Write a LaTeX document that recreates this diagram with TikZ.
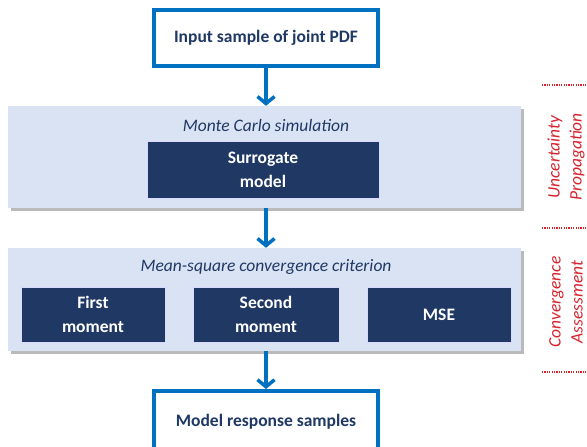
\documentclass[tikz,border=0pt]{standalone}
\usepackage{fontspec}
\setmainfont{Carlito}
\usetikzlibrary{arrows.meta,shadows,calc}
\definecolor{mblue}{RGB}{0,112,192}
\definecolor{navy}{RGB}{31,56,100}
\definecolor{panelbg}{RGB}{218,227,243}
\definecolor{mred}{RGB}{215,35,45}
\tikzset{
  whitebox/.style={draw=mblue, line width=4pt, fill=white, inner sep=0pt, align=center,
    font=\fontsize{17.5}{21}\selectfont\bfseries, text=navy},
  panel/.style={fill=panelbg, draw=none, inner sep=0pt,
    drop shadow={shadow xshift=2.5pt, shadow yshift=-3pt, fill=black!45, opacity=0.6}},
  darkbox/.style={fill=navy, draw=white!85!blue, line width=0.8pt, inner sep=0pt, align=center,
    font=\fontsize{17.5}{24}\selectfont\bfseries, text=white},
  ptitle/.style={font=\fontsize{17.5}{21}\selectfont\itshape, text=navy},
  arr/.style={draw=mblue, line width=3.5pt, -{Straight Barb[length=7pt,width=17pt]}},
  redline/.style={draw=mred, line width=1.3pt, dash pattern=on 1.2pt off 1.2pt},
  sidelabel/.style={rotate=90, align=center, text=mred, font=\fontsize{17.5}{22}\selectfont\itshape}
}
\begin{document}
\begin{tikzpicture}[x=1pt,y=-1pt]
\clip (0,0) rectangle (587,447);
\fill[white] (0,0) rectangle (587,447);
% top input box
\node[whitebox, minimum width=224pt, minimum height=56pt] (in) at (266,38) {Input sample of joint PDF};
% panel 1
\node[panel, minimum width=513pt, minimum height=102pt] (p1) at (264.5,157) {};
\node[ptitle] (t1) at (266,125) {Monte Carlo simulation};
\node[darkbox, minimum width=232pt, minimum height=57pt] (sur) at (263,169.5) {Surrogate\\model};
% panel 2
\node[panel, minimum width=513pt, minimum height=103pt] (p2) at (264.5,299.5) {};
\node[ptitle] (t2) at (266,267) {Mean-square convergence criterion};
\node[darkbox, minimum width=144pt, minimum height=55pt] (fm) at (93,314.5) {First\\moment};
\node[darkbox, minimum width=146pt, minimum height=55pt] (sm) at (266,314.5) {Second\\moment};
\node[darkbox, minimum width=144pt, minimum height=55pt] (mse) at (439,314.5) {MSE};
% bottom output box
\node[whitebox, minimum width=224pt, minimum height=62pt] (out) at (266,422) {Model response samples};
% arrows
\draw[arr] (in.south) -- (in.south |- p1.north);
\draw[arr] (in.south |- p1.south) -- (in.south |- p2.north);
\draw[arr] (in.south |- p2.south) -- (out.north);
% side markers
\draw[redline] (542,85) -- (587,85);
\draw[redline] (542,228) -- (587,228);
\draw[redline] (542,372) -- (587,372);
\node[sidelabel] (up) at (566,157) {Uncertainty\\Propagation};
\node[sidelabel] (ca) at (566,302) {Convergence\\Assessment};
\end{tikzpicture}
\end{document}
